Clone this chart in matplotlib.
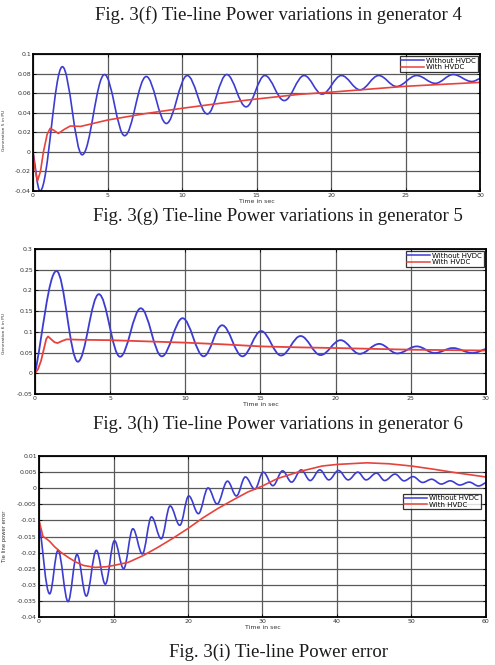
import numpy as np
import matplotlib
matplotlib.use('Agg')
import matplotlib.pyplot as plt
from matplotlib.path import Path
from matplotlib.patches import PathPatch
from matplotlib.lines import Line2D

# ---- data ----
# generator 5 (top panel): extrema of the oscillating curve
t5_blue = [0, 0.47, 1.97, 3.3, 4.8, 6.15, 7.6, 8.95, 10.35, 11.7, 13.0, 14.3, 15.56, 16.86,
           18.2, 19.4, 20.7, 21.95, 23.2, 24.4, 25.75, 27.0, 28.2, 29.45, 30]
g5_blue = [0, -0.04, 0.087, -0.003, 0.079, 0.0165, 0.077, 0.029, 0.078, 0.0387, 0.079, 0.046,
           0.078, 0.0524, 0.078, 0.059, 0.078, 0.0634, 0.078, 0.0668, 0.078, 0.070, 0.079, 0.0719, 0.075]
t5_red = [0, 0.1, 0.3, 0.5, 0.7, 0.95, 1.15, 1.4, 1.7, 2.1, 2.5, 3.2, 5, 7.5, 10, 12.5, 15, 17.9, 20, 25, 30]
g5_red = [0, -0.015, -0.0298, -0.02, 0.0, 0.018, 0.024, 0.022, 0.0188, 0.023, 0.0264, 0.026, 0.0325,
          0.039, 0.0445, 0.0495, 0.054, 0.0588, 0.061, 0.067, 0.071]

# generator 6 (middle panel)
t6_blue = [0, 1.43, 2.85, 4.25, 5.66, 7.04, 8.44, 9.82, 11.22, 12.45, 13.8, 15.04, 16.37, 17.67,
           19.0, 20.33, 21.6, 22.9, 24.1, 25.4, 26.6, 27.8, 29.1, 30]
g6_blue = [0, 0.247, 0.028, 0.191, 0.04, 0.157, 0.041, 0.133, 0.041, 0.116, 0.041, 0.102, 0.043,
           0.09, 0.044, 0.08, 0.047, 0.071, 0.048, 0.065, 0.049, 0.061, 0.049, 0.059]
t6_red = [0, 0.2, 0.4, 0.6, 0.75, 0.87, 1.05, 1.3, 1.5, 1.8, 2.1, 3, 5, 7.5, 10, 12.5, 15, 17.6, 20, 25, 30]
g6_red = [0, 0.01, 0.03, 0.06, 0.083, 0.089, 0.083, 0.075, 0.073, 0.078, 0.082, 0.081, 0.08, 0.077,
          0.074, 0.07, 0.065, 0.0626, 0.061, 0.057, 0.055]

# tie-line power error (bottom panel)
te_blue = [0, 1.43, 2.55, 3.9, 5.1, 6.35, 7.7, 8.9, 10.13, 11.36, 12.6, 13.87, 15.1, 16.4, 17.6,
           18.9, 20.1, 21.4, 22.7, 23.9, 25.3, 26.5, 27.7, 28.97, 30.1, 31.4, 32.7, 33.9, 35.2,
           36.4, 37.7, 38.9, 40.2, 41.5, 42.8, 43.9, 45.3, 46.4, 47.8, 49.0, 50.2, 51.5, 52.7,
           54.0, 55.2, 56.5, 57.75, 59.0, 60]
err_blue = [-0.01, -0.0328, -0.0193, -0.0352, -0.0206, -0.0335, -0.0193, -0.0298, -0.0163, -0.025,
            -0.0126, -0.0204, -0.0089, -0.0157, -0.0055, -0.0115, -0.0024, -0.0079, 0.0001, -0.0049,
            0.0022, -0.0024, 0.0035, -0.0003, 0.005, 0.0008, 0.0054, 0.0019, 0.0057, 0.0024,
            0.0057, 0.0026, 0.0055, 0.0026, 0.005, 0.0026, 0.0047, 0.0024, 0.0044, 0.0023,
            0.0036, 0.0018, 0.0028, 0.0013, 0.0023, 0.001, 0.0019, 0.0007, 0.0018]
te_red = [0, 0.54, 1.0, 1.43, 2.1, 3, 4, 5, 6, 7.5, 9, 10, 12, 14, 16, 18, 20, 22, 24, 26, 28,
          30, 32, 35, 38, 40, 44, 47, 50, 53, 56, 60]
err_red = [-0.01, -0.015, -0.0157, -0.0165, -0.0182, -0.02, -0.0216, -0.023, -0.024, -0.0246,
           -0.0244, -0.024, -0.023, -0.0209, -0.0183, -0.0155, -0.0125, -0.0092, -0.0063, -0.0037,
           -0.0012, 0.0007, 0.003, 0.0052, 0.0069, 0.0074, 0.0079, 0.0076, 0.0069, 0.0059, 0.0048, 0.0035]

labels = ['Without HVDC', 'With HVDC']
captions = ['Fig. 3(f) Tie-line Power variations in generator 4',
            'Fig. 3(g) Tie-line Power variations in generator 5',
            'Fig. 3(h) Tie-line Power variations in generator 6',
            'Fig. 3(i) Tie-line Power error']

BLUE = '#3c3cd2'
RED = '#e8423c'


def wave_path(t, y):
    # smooth bezier through extrema (horizontal tangents at the turning points)
    verts = [(t[0], y[0])]
    codes = [Path.MOVETO]
    n = len(t)
    for i in range(n - 1):
        dt = t[i + 1] - t[i]
        dy = y[i + 1] - y[i]
        if i == 0:
            c1 = (t[i] + dt / 3, y[i] + dy / 3)
        else:
            c1 = (t[i] + 0.364 * dt, y[i])
        if i == n - 2:
            c2 = (t[i + 1] - dt / 3, y[i + 1] - dy / 3)
        else:
            c2 = (t[i + 1] - 0.364 * dt, y[i + 1])
        verts += [c1, c2, (t[i + 1], y[i + 1])]
        codes += [Path.CURVE4] * 3
    return Path(verts, codes)


def style_axes(ax, xmax, xstep, yticks, ylabels, ylab, ylab_fs, ylab_xy):
    ax.set_xlim(0, xmax)
    ax.set_ylim(yticks[0], yticks[-1])
    ax.set_xticks(np.arange(0, xmax + 0.1, xstep))
    ax.set_yticks(yticks)
    ax.set_yticklabels(ylabels)
    ax.grid(True, color='0.35', lw=0.9)
    ax.set_axisbelow(True)
    for s in ax.spines.values():
        s.set_linewidth(1.3)
    ax.tick_params(direction='in', length=2, width=0.6, top=True, right=True,
                   labelsize=4.5, labelcolor='0.2', pad=1.5)
    ax.set_xlabel('Time in sec', fontsize=4.5, color='0.2', labelpad=1)
    ax.set_ylabel(ylab, fontsize=ylab_fs, color='0.2')
    ax.yaxis.set_label_coords(*ylab_xy)


fig = plt.figure(figsize=(4.95, 6.65), dpi=100)

handles = [Line2D([], [], color=BLUE, lw=1.1), Line2D([], [], color=RED, lw=1.1)]

# top panel
ax1 = fig.add_axes([0.0667, 0.7128, 0.903, 0.206])
ax1.add_patch(PathPatch(wave_path(t5_blue, g5_blue), fill=False, edgecolor=BLUE, lw=1.2))
ax1.plot(t5_red, g5_red, color=RED, lw=1.2)
style_axes(ax1, 30, 5, np.arange(-0.04, 0.1001, 0.02),
           ['-0.04', '-0.02', '0', '0.02', '0.04', '0.06', '0.08', '0.1'],
           'Generation 5 in PU', 3.2, (-0.060, 0.44))

# middle panel
ax2 = fig.add_axes([0.0707, 0.4075, 0.911, 0.218])
ax2.add_patch(PathPatch(wave_path(t6_blue, g6_blue), fill=False, edgecolor=BLUE, lw=1.3))
ax2.plot(t6_red, g6_red, color=RED, lw=1.3)
style_axes(ax2, 30, 5, np.arange(-0.05, 0.3001, 0.05),
           ['-0.05', '0', '0.05', '0.1', '0.15', '0.2', '0.25', '0.3'],
           'Generation 6 in PU', 3.2, (-0.065, 0.42))

# bottom panel
ax3 = fig.add_axes([0.0788, 0.0722, 0.903, 0.242])
ax3.add_patch(PathPatch(wave_path(te_blue, err_blue), fill=False, edgecolor=BLUE, lw=1.2))
ax3.plot(te_red, err_red, color=RED, lw=1.2)
style_axes(ax3, 60, 10, np.arange(-0.04, 0.01001, 0.005),
           ['-0.04', '-0.035', '-0.03', '-0.025', '-0.02', '-0.015', '-0.01', '-0.005',
            '0', '0.005', '0.01'],
           'Tie line power error', 3.8, (-0.071, 0.50))

leg_kw = dict(fontsize=5, frameon=True, fancybox=False, edgecolor='black',
              handlelength=3.2, handletextpad=0.4, borderpad=0.25, labelspacing=0.05,
              borderaxespad=0.3)
for ax, loc, anchor in [(ax1, 'upper right', (1, 1)),
                        (ax2, 'upper right', (1, 1)),
                        (ax3, 'upper right', (0.993, 0.78))]:
    lg = ax.legend(handles, labels, loc=loc, bbox_to_anchor=anchor, **leg_kw)
    lg.get_frame().set_linewidth(0.9)

# captions
for txt, y in zip(captions, [0.977, 0.675, 0.3624, 0.0195]):
    fig.text(0.562, y, txt, ha='center', va='center', fontsize=13.5,
             family='Liberation Serif', color='0.1')

fig.savefig('out.png', dpi=100)
